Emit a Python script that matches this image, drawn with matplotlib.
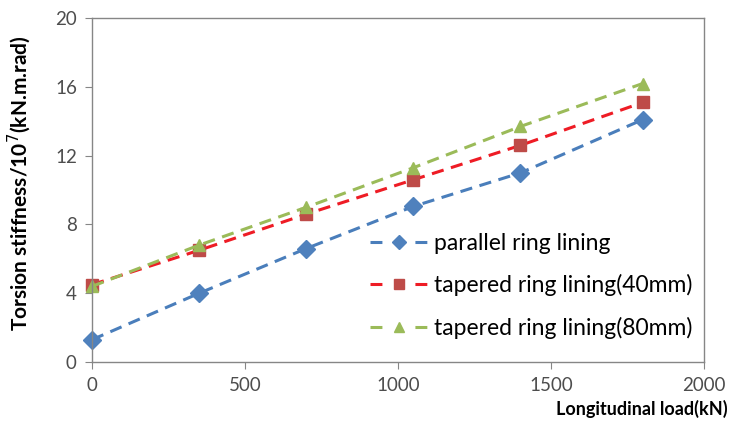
import numpy as np
import matplotlib.pyplot as plt
from matplotlib import rcParams
from matplotlib.lines import Line2D

rcParams['font.family'] = ['Lato', 'DejaVu Sans']

# data
load = [0, 350, 700, 1050, 1400, 1800]
parallel = [1.3, 4.0, 6.6, 9.05, 11.0, 14.1]
tapered_40 = [4.5, 6.5, 8.6, 10.6, 12.6, 15.1]
tapered_80 = [4.4, 6.8, 9.0, 11.3, 13.7, 16.2]

labels = ['parallel ring lining', 'tapered ring lining(40mm)', 'tapered ring lining(80mm)']
x_ticks = [0, 500, 1000, 1500, 2000]
y_ticks = [0, 4, 8, 12, 16, 20]

BLUE = '#4a7ebb'
BLUE_MARK = '#4f81bd'
RED_LINE = '#ee1c25'
RED_MARK = '#be4b48'
GREEN = '#9bbb59'

fig = plt.figure(figsize=(7.31, 4.33), dpi=100)
ax = fig.add_axes([0.126, 0.164, 0.837, 0.794])

dash = (0, (4, 2.5))
ax.plot(load, parallel, linestyle=dash, lw=2.2, color=BLUE,
        marker='D', ms=9, mfc=BLUE_MARK, mec=BLUE_MARK, clip_on=False)
ax.plot(load, tapered_40, linestyle=dash, lw=2.2, color=RED_LINE,
        marker='s', ms=8, mfc=RED_MARK, mec=RED_MARK, clip_on=False)
ax.plot(load, tapered_80, linestyle=dash, lw=2.2, color=GREEN,
        marker='^', ms=9, mfc=GREEN, mec=GREEN, clip_on=False)

ax.set_xlim(0, 2000)
ax.set_ylim(0, 20)
ax.set_xticks(x_ticks)
ax.set_yticks(y_ticks)
ax.tick_params(direction='out', length=5, color='#868686', labelsize=13.5,
               labelcolor='#4d4d4d', pad=6)

for side in ['left', 'bottom', 'top', 'right']:
    ax.spines[side].set_color('#868686')
    ax.spines[side].set_linewidth(1.0)

ax.set_ylabel('Torsion stiffness/10$^7$(kN.m.rad)', fontsize=15,
              fontweight='bold')
ax.yaxis.set_label_coords(-0.097, 0.52)
fig.text(0.996, 0.035, 'Longitudinal load(kN)', ha='right', va='bottom',
         fontsize=13, fontweight='bold')

# legend handles: short dash - marker - short dash
leg_dash = (0, (3.9, 10.8))
handles = [
    Line2D([], [], linestyle=leg_dash, lw=2.2, color=BLUE, marker='D', ms=7,
           mfc=BLUE_MARK, mec=BLUE_MARK),
    Line2D([], [], linestyle=leg_dash, lw=2.2, color=RED_LINE, marker='s', ms=7,
           mfc=RED_MARK, mec=RED_MARK),
    Line2D([], [], linestyle=leg_dash, lw=2.2, color=GREEN, marker='^', ms=7,
           mfc=GREEN, mec=GREEN),
]
ax.legend(handles, labels, loc='lower left', bbox_to_anchor=(0.44, 0.04),
          frameon=False, fontsize=16.5, handlelength=2.5, handletextpad=0.25,
          labelspacing=0.9, borderaxespad=0)

fig.savefig('out.png', dpi=100)
